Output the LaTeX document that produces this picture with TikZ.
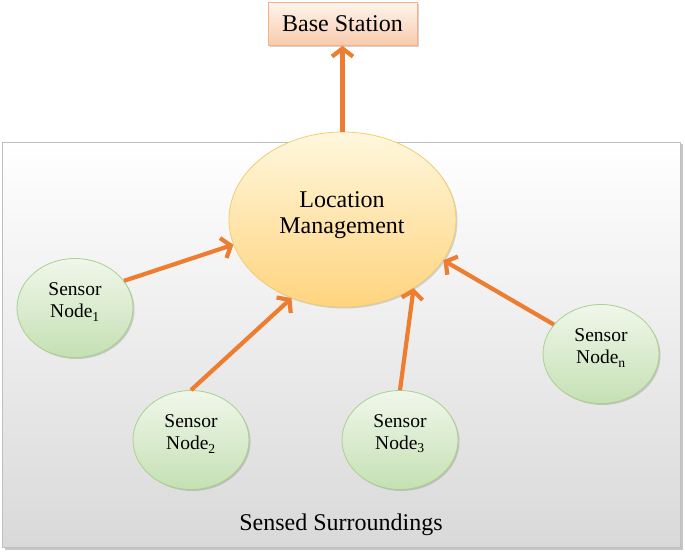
\documentclass[tikz,border=0pt]{standalone}
\usepackage{fontspec}
\setmainfont{Liberation Serif}
\usetikzlibrary{arrows.meta,shapes.geometric,shadows}
\definecolor{arroworange}{HTML}{ED7D31}
\definecolor{bsborder}{HTML}{F4B183}
\definecolor{bstop}{HTML}{FEF4EC}
\definecolor{bsbottom}{HTML}{F8CBAD}
\definecolor{lmborder}{HTML}{F2CD6F}
\definecolor{lmtop}{HTML}{FFF7DE}
\definecolor{lmbottom}{HTML}{FFD47E}
\definecolor{snborder}{HTML}{A9D18E}
\definecolor{sntop}{HTML}{F0F7EA}
\definecolor{snbottom}{HTML}{C5E0B4}
\definecolor{frborder}{HTML}{BFBFBF}
\definecolor{frbottom}{HTML}{D9D9D9}
\begin{document}
\begin{tikzpicture}[x=1pt,y=-1pt,
  frame/.style={rectangle, draw=frborder, line width=0.8pt, top color=white, bottom color=frbottom,
    minimum width=678pt, minimum height=405pt, inner sep=0pt,
    drop shadow={shadow xshift=2.5pt,shadow yshift=-2.5pt,opacity=0.45}},
  bsbox/.style={rectangle, draw=bsborder, line width=0.8pt, top color=bstop, bottom color=bsbottom,
    minimum width=149pt, minimum height=43pt, inner sep=0pt,
    font=\fontsize{24}{26}\selectfont,
    drop shadow={shadow xshift=2pt,shadow yshift=-2pt,opacity=0.35}},
  lmell/.style={ellipse, draw=lmborder, line width=0.8pt, top color=lmtop, bottom color=lmbottom,
    minimum width=227pt, minimum height=175pt, inner sep=0pt,
    drop shadow={shadow xshift=1.5pt,shadow yshift=-1.5pt,opacity=0.3}},
  lmtext/.style={align=center, font=\fontsize{24}{26}\selectfont, inner sep=0pt},
  sensor/.style={ellipse, draw=snborder, line width=0.8pt, top color=sntop, bottom color=snbottom,
    minimum width=116pt, minimum height=99pt, inner sep=0pt,
    drop shadow={shadow xshift=1.5pt,shadow yshift=-1.5pt,opacity=0.35}},
  sensortext/.style={align=center, font=\fontsize{19.5}{22}\selectfont, inner sep=0pt, yshift=6pt},
  conn/.style={draw=arroworange, line width=4.2pt, -{Straight Barb[length=8pt,width=21pt]}},
  caption/.style={font=\fontsize{24}{26}\selectfont, inner sep=0pt}
]
\useasboundingbox (0,0) rectangle (685,556);
\node[frame] (frame) at (341,344.5) {};
\node[bsbox] (bs) at (342.5,24) {Base Station};
\node[lmell] (lm) at (342.5,219.5) {};
\node[lmtext] (lmt) at (342,215) {Location\\Management};
\node[sensor, label={[sensortext]center:Sensor\\Node\textsubscript{1}}] (s1) at (75,308) {};
\node[sensor, label={[sensortext]center:Sensor\\Node\textsubscript{2}}] (s2) at (191,440) {};
\node[sensor, label={[sensortext]center:Sensor\\Node\textsubscript{3}}] (s3) at (400,440) {};
\node[sensor, label={[sensortext]center:Sensor\\Node\textsubscript{n}}] (sn) at (601,354) {};
\node[caption] (cap) at (341,525) {Sensed Surroundings};
\draw[conn] (lm.north) -- (bs.south);
\draw[conn] (s1.29) -- (lm.193);
\draw[conn] (s2.north) -- (lm.237);
\draw[conn] (s3.north) -- (lm.316);
\draw[conn] (sn.148) -- (lm.338);
\end{tikzpicture}
\end{document}
